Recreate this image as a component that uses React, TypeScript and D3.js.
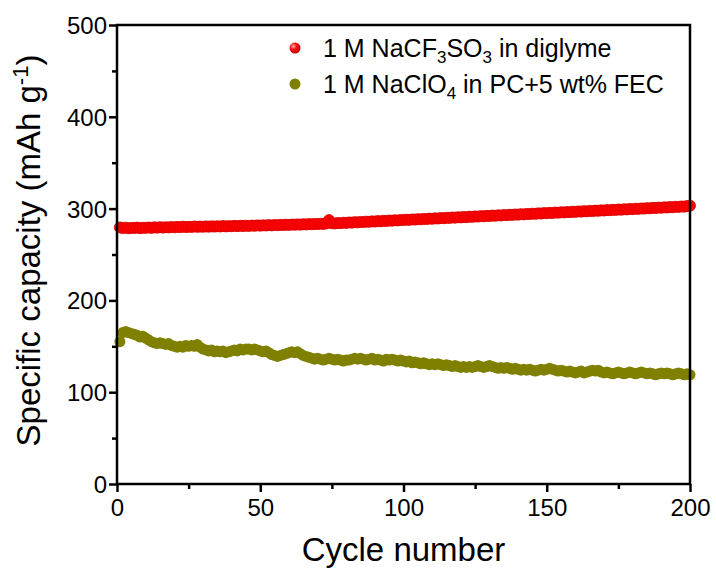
import { useRef, useEffect } from 'react';
import * as d3 from 'd3';

// Specific capacity (mAh g-1) per cycle, cycles 1..200
const triflateDiglyme = [
  279.5, 278.8, 279.2, 278.6, 279.0, 278.9, 279.3, 278.7, 279.1, 279.0,
  279.4, 279.0, 279.6, 279.2, 279.8, 279.3, 279.7, 279.5, 280.0, 279.6,
  280.1, 279.8, 280.3, 279.9, 280.2, 280.0, 280.5, 280.1, 280.4, 280.2,
  280.6, 280.3, 280.7, 280.4, 280.8, 280.5, 281.0, 280.6, 280.9, 280.8,
  281.2, 280.9, 281.3, 281.0, 281.4, 281.1, 281.5, 281.3, 281.7, 281.4,
  281.8, 281.6, 282.0, 281.7, 282.2, 281.9, 282.3, 282.1, 282.5, 282.2,
  282.6, 282.4, 282.8, 282.5, 283.0, 282.7, 283.1, 282.9, 283.3, 283.1,
  283.5, 283.3, 283.8, 287.5, 284.0, 283.8, 284.3, 284.1, 284.6, 284.4,
  284.9, 284.7, 285.2, 285.0, 285.5, 285.3, 285.8, 285.6, 286.1, 285.9,
  286.4, 286.2, 286.7, 286.5, 287.0, 286.8, 287.3, 287.1, 287.6, 287.5,
  287.9, 287.7, 288.2, 288.0, 288.5, 288.3, 288.8, 288.6, 289.1, 288.9,
  289.4, 289.2, 289.7, 289.5, 290.0, 289.8, 290.3, 290.1, 290.6, 290.4,
  290.9, 290.7, 291.2, 291.0, 291.5, 291.3, 291.8, 291.6, 292.1, 291.9,
  292.4, 292.2, 292.7, 292.5, 293.0, 292.8, 293.3, 293.1, 293.6, 293.4,
  293.9, 293.7, 294.2, 294.0, 294.5, 294.3, 294.8, 294.6, 295.1, 295.0,
  295.4, 295.2, 295.7, 295.5, 296.0, 295.8, 296.3, 296.1, 296.6, 296.4,
  296.9, 296.7, 297.2, 297.0, 297.5, 297.3, 297.8, 297.6, 298.1, 297.9,
  298.4, 298.2, 298.7, 298.5, 299.0, 298.8, 299.3, 299.1, 299.6, 299.4,
  299.9, 299.7, 300.2, 300.0, 300.5, 300.3, 300.8, 300.6, 301.1, 300.9,
  301.4, 301.2, 301.7, 301.5, 302.0, 301.8, 302.3, 302.1, 302.8, 303.2,
];

const perchloratePcFec = [
  155, 165, 166, 165, 164, 163, 162, 160, 161, 159,
  157, 155, 154, 153, 154, 153, 152, 153, 151, 150,
  149, 150, 149, 151, 150, 151, 150, 152, 149, 147,
  146, 145, 146, 144, 145, 144, 145, 143, 144, 145,
  146, 145, 147, 146, 147, 147, 146, 147, 146, 145,
  144, 145, 143, 141, 140, 139, 140, 141, 142, 143,
  144, 143, 144, 142, 140, 139, 138, 137, 136, 137,
  136, 135, 136, 137, 136, 135, 136, 135, 134, 135,
  135, 136, 137, 136, 137, 136, 135, 136, 137, 135,
  136, 135, 134, 136, 135, 136, 135, 134, 135, 134,
  133, 134, 132, 133, 132, 131, 132, 131, 130, 131,
  130, 131, 130, 129, 130, 129, 128, 129, 128, 127,
  128, 127, 128, 127, 128, 129, 128, 127, 128, 129,
  128, 127, 126, 127, 126, 127, 126, 125, 126, 125,
  124, 125, 124, 125, 124, 123, 124, 125, 124, 125,
  126, 125, 124, 123, 124, 123, 122, 123, 122, 121,
  122, 123, 121, 122, 123, 124, 123, 124, 122, 121,
  122, 121, 120, 121, 122, 121, 120, 121, 122, 121,
  120, 121, 122, 121, 120, 121, 120, 119, 120, 121,
  120, 121, 120, 119, 120, 121, 120, 119, 120, 119,
];

const xTicks = [0, 50, 100, 150, 200];
const xMinorTicks = [25, 75, 125, 175];
const yTicks = [0, 100, 200, 300, 400, 500];
const yMinorTicks = [50, 150, 250, 350, 450];

const FONT = "'Liberation Sans', Arial, sans-serif";

function CycleChart() {
  const svgRef = useRef<SVGSVGElement>(null);

  useEffect(() => {
    const svg = d3.select(svgRef.current);
    svg.selectAll("*").remove();

    const margin = { top: 25, right: 26, bottom: 86, left: 117 };
    const W = 716, H = 570;
    const width = W - margin.left - margin.right;
    const height = H - margin.top - margin.bottom;

    const defs = svg.append("defs");
    const grad = defs.append("radialGradient").attr("id", "redBall")
      .attr("cx", "35%").attr("cy", "35%").attr("r", "65%");
    grad.append("stop").attr("offset", "0%").attr("stop-color", "#ffb0b0");
    grad.append("stop").attr("offset", "45%").attr("stop-color", "#ff1010");
    grad.append("stop").attr("offset", "100%").attr("stop-color", "#c00000");

    const g = svg.append("g")
      .attr("transform", `translate(${margin.left},${margin.top})`);

    const x = d3.scaleLinear().domain([0, 200]).range([0, width]);
    const y = d3.scaleLinear().domain([0, 500]).range([height, 0]);

    // Series markers
    const r = 5.5;
    g.append("g").selectAll("circle")
      .data(perchloratePcFec)
      .enter().append("circle")
      .attr("cx", (d, i) => x(i + 1))
      .attr("cy", d => y(d))
      .attr("r", r)
      .attr("fill", "#808000");

    g.append("g").selectAll("circle")
      .data(triflateDiglyme)
      .enter().append("circle")
      .attr("cx", (d, i) => x(i + 1))
      .attr("cy", d => y(d))
      .attr("r", r)
      .attr("fill", "#ff0000")
      .attr("stroke", "#d80000")
      .attr("stroke-width", 0.8);

    // Frame
    g.append("rect")
      .attr("width", width).attr("height", height)
      .attr("fill", "none").attr("stroke", "#000").attr("stroke-width", 2.5);

    // Axes
    const xAxis = g.append("g").attr("transform", `translate(0,${height})`)
      .call(d3.axisBottom(x).tickValues(xTicks).tickSize(8).tickFormat(d3.format("d")));
    g.append("g").attr("transform", `translate(0,${height})`)
      .call(d3.axisBottom(x).tickValues(xMinorTicks).tickSize(5).tickFormat(() => ""));
    const yAxis = g.append("g")
      .call(d3.axisLeft(y).tickValues(yTicks).tickSize(8).tickFormat(d3.format("d")));
    g.append("g")
      .call(d3.axisLeft(y).tickValues(yMinorTicks).tickSize(5).tickFormat(() => ""));

    g.selectAll(".domain").remove();
    g.selectAll(".tick line").attr("stroke", "#000").attr("stroke-width", 2.5);

    xAxis.selectAll("text")
      .style("font-family", FONT).style("font-size", "24px").attr("fill", "#000")
      .attr("y", 15);
    yAxis.selectAll("text")
      .style("font-family", FONT).style("font-size", "24px").attr("fill", "#000")
      .attr("x", -10).attr("dy", "0.35em");

    // Axis titles
    g.append("text")
      .attr("x", width / 2).attr("y", height + 77)
      .attr("text-anchor", "middle")
      .style("font-family", FONT).style("font-size", "33px")
      .text("Cycle number");

    const yt = g.append("text")
      .attr("transform", `translate(-77,${height / 2 - 4}) rotate(-90)`)
      .attr("text-anchor", "middle")
      .style("font-family", FONT).style("font-size", "33px");
    yt.append("tspan").text("Specific capacity (mAh g");
    yt.append("tspan").attr("dy", -12).style("font-size", "22px").text("-1");
    yt.append("tspan").attr("dy", 12).text(")");

    // Legend
    const legend = svg.append("g").style("font-family", FONT).style("font-size", "25px");
    legend.append("circle").attr("cx", 295).attr("cy", 48).attr("r", 5.5).attr("fill", "url(#redBall)");
    const t1 = legend.append("text").attr("x", 323).attr("y", 57);
    t1.append("tspan").text("1 M NaCF");
    t1.append("tspan").attr("dy", 6).style("font-size", "17px").text("3");
    t1.append("tspan").attr("dy", -6).text("SO");
    t1.append("tspan").attr("dy", 6).style("font-size", "17px").text("3");
    t1.append("tspan").attr("dy", -6).text(" in diglyme");

    legend.append("circle").attr("cx", 295).attr("cy", 84).attr("r", 5.5).attr("fill", "#808000");
    const t2 = legend.append("text").attr("x", 323).attr("y", 93);
    t2.append("tspan").text("1 M NaClO");
    t2.append("tspan").attr("dy", 6).style("font-size", "17px").text("4");
    t2.append("tspan").attr("dy", -6).text(" in PC+5 wt% FEC");
  }, []);

  return <svg ref={svgRef} width={716} height={570}
    style={{ position: "absolute", left: 0, top: 0, background: "#fff" }} />;
}

export default function App() {
  return <CycleChart />;
}
